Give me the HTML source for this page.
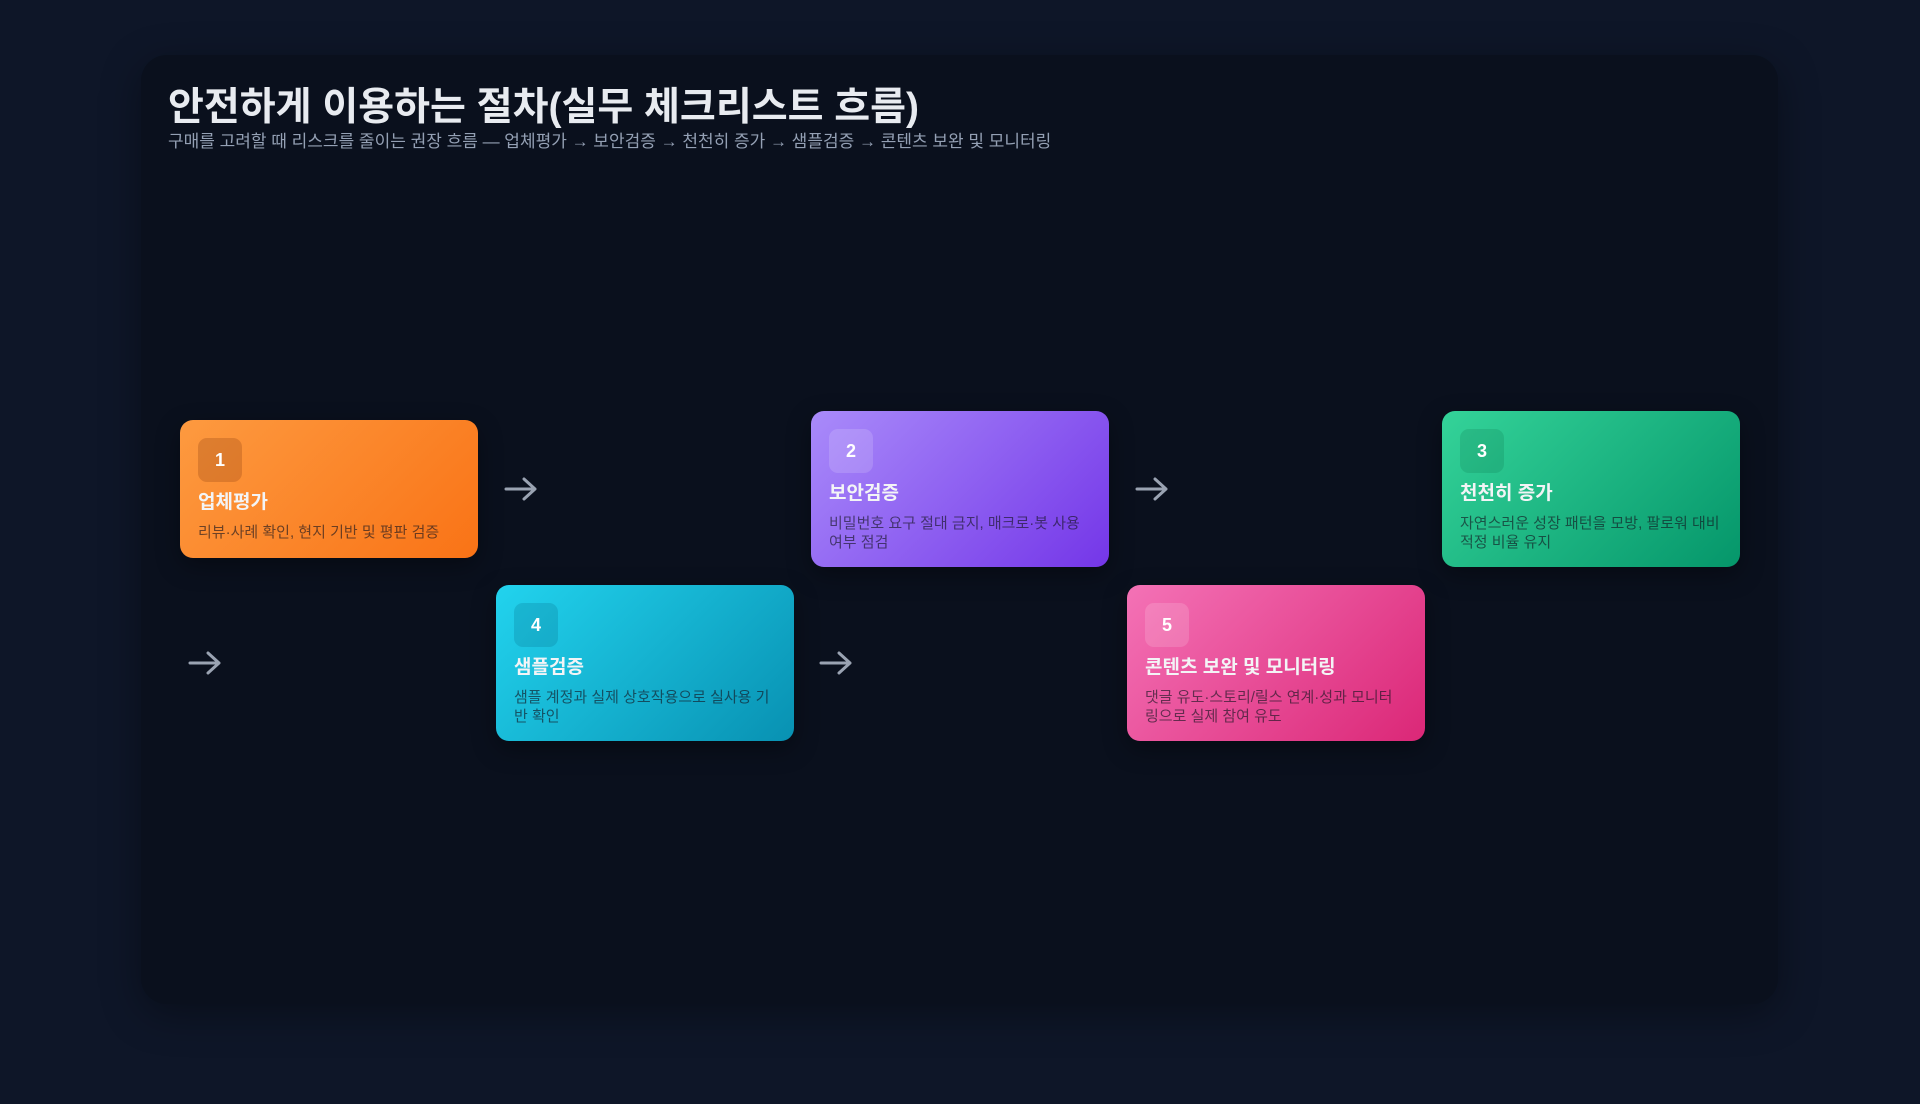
<!DOCTYPE html>
<html><head><meta charset="utf-8"><style>
*{margin:0;padding:0;box-sizing:border-box}
body{width:1920px;height:1104px;background:#0e1628;font-family:"Liberation Sans","Noto Sans CJK KR",sans-serif;position:relative;overflow:hidden}
.panel{position:absolute;left:141px;top:55px;width:1637px;height:949px;background:#0a101d;border-radius:26px;box-shadow:0 10px 40px rgba(0,0,0,.35)}
h1{position:absolute;left:168px;top:76px;font-size:39px;font-weight:700;color:#e8ebf0;letter-spacing:0}
.sub{position:absolute;left:168px;top:127px;font-size:17px;color:#94a0b4}
.card{position:absolute;width:298px;border-radius:13px;padding:18px;box-shadow:0 8px 24px rgba(0,0,0,.35)}
.badge{width:44px;height:44px;border-radius:9px;display:flex;align-items:center;justify-content:center;color:#fff;font-weight:700;font-size:18px;background:rgba(255,255,255,.15)}
.t{margin-top:9px;font-size:19px;font-weight:700;color:#f3f4f6;line-height:24px}
.d{margin-top:8px;font-size:15px;line-height:19px;color:rgba(20,20,30,.62)}
.arr{position:absolute;width:34px;height:24px}
</style></head><body>
<div class="panel"></div>
<h1>안전하게 이용하는 절차(실무 체크리스트 흐름)</h1>
<div class="sub">구매를 고려할 때 리스크를 줄이는 권장 흐름 — 업체평가 → 보안검증 → 천천히 증가 → 샘플검증 → 콘텐츠 보완 및 모니터링</div>

<div class="card" style="left:180px;top:420px;height:138px;background:linear-gradient(135deg,#fd9a40,#f97316)"><div class="badge" style="background:rgba(150,70,20,.3)">1</div><div class="t">업체평가</div><div class="d">리뷰·사례 확인, 현지 기반 및 평판 검증</div></div>
<div class="card" style="left:811px;top:411px;height:156px;background:linear-gradient(135deg,#a98bfa,#7436e8)"><div class="badge">2</div><div class="t">보안검증</div><div class="d">비밀번호 요구 절대 금지, 매크로·봇 사용 여부 점검</div></div>
<div class="card" style="left:1442px;top:411px;height:156px;background:linear-gradient(135deg,#34d399,#05966a)"><div class="badge" style="background:rgba(0,80,50,.15)">3</div><div class="t">천천히 증가</div><div class="d">자연스러운 성장 패턴을 모방, 팔로워 대비 적정 비율 유지</div></div>
<div class="card" style="left:496px;top:585px;height:156px;background:linear-gradient(135deg,#22d3ee,#0891b2)"><div class="badge" style="background:rgba(0,90,120,.2)">4</div><div class="t">샘플검증</div><div class="d">샘플 계정과 실제 상호작용으로 실사용 기반 확인</div></div>
<div class="card" style="left:1127px;top:585px;height:156px;padding-right:30px;background:linear-gradient(135deg,#f472b6,#db2777)"><div class="badge">5</div><div class="t">콘텐츠 보완 및 모니터링</div><div class="d">댓글 유도·스토리/릴스 연계·성과 모니터링으로 실제 참여 유도</div></div>

<svg class="arr" style="left:504px;top:477px" viewBox="0 0 34 24"><path d="M2 12H31M20 2L31 12L20 22" stroke="#9aa3b2" stroke-width="3" fill="none" stroke-linecap="round" stroke-linejoin="round"/></svg>
<svg class="arr" style="left:1135px;top:477px" viewBox="0 0 34 24"><path d="M2 12H31M20 2L31 12L20 22" stroke="#9aa3b2" stroke-width="3" fill="none" stroke-linecap="round" stroke-linejoin="round"/></svg>
<svg class="arr" style="left:188px;top:651px" viewBox="0 0 34 24"><path d="M2 12H31M20 2L31 12L20 22" stroke="#9aa3b2" stroke-width="3" fill="none" stroke-linecap="round" stroke-linejoin="round"/></svg>
<svg class="arr" style="left:819px;top:651px" viewBox="0 0 34 24"><path d="M2 12H31M20 2L31 12L20 22" stroke="#9aa3b2" stroke-width="3" fill="none" stroke-linecap="round" stroke-linejoin="round"/></svg>
</body></html>
